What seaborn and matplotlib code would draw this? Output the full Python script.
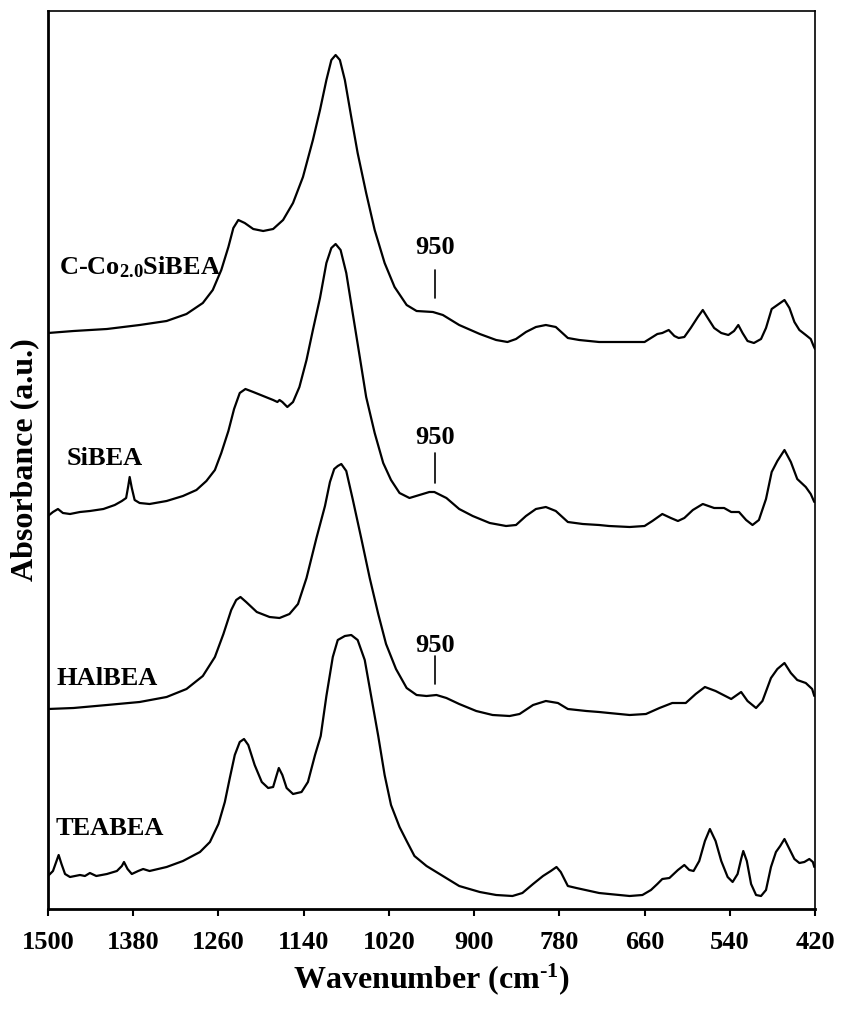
import matplotlib
matplotlib.use("Agg")
import matplotlib.pyplot as plt
import pandas as pd
import seaborn as sns

# FTIR spectra, wavenumber (cm-1) vs offset absorbance (a.u.)
wn_coco = [1500, 1464, 1417, 1371, 1333, 1305, 1282, 1268, 1256, 1246,
           1239, 1232, 1223, 1211, 1197, 1183, 1169, 1155, 1141, 1127,
           1117, 1108, 1101, 1095, 1089, 1082, 1073, 1064, 1052, 1040,
           1026, 1012, 995, 981, 958, 944, 921, 892, 869, 853,
           841, 827, 813, 799, 785, 768, 752, 724, 710, 660,
           651, 642, 635, 626, 618, 612, 604, 595, 585, 578,
           571, 562, 552, 542, 534, 528, 522, 515, 506, 496,
           489, 481, 473, 463, 456, 449, 442, 433, 426, 422, 420]
abs_coco = [5.76, 5.78, 5.80, 5.84, 5.88, 5.95, 6.06, 6.19, 6.39, 6.62,
            6.81, 6.89, 6.86, 6.80, 6.78, 6.80, 6.89, 7.06, 7.32, 7.69,
            7.99, 8.29, 8.49, 8.54, 8.49, 8.29, 7.92, 7.56, 7.16, 6.79,
            6.46, 6.22, 6.04, 5.98, 5.97, 5.94, 5.84, 5.75, 5.69, 5.67,
            5.70, 5.77, 5.82, 5.84, 5.82, 5.71, 5.69, 5.67, 5.67, 5.67,
            5.71, 5.75, 5.76, 5.79, 5.73, 5.71, 5.72, 5.81, 5.92, 5.99,
            5.91, 5.81, 5.76, 5.74, 5.78, 5.84, 5.76, 5.68, 5.66, 5.70,
            5.81, 6.00, 6.04, 6.09, 6.01, 5.87, 5.79, 5.74, 5.70, 5.63, 5.60]

wn_sibea = [1500, 1493, 1486, 1479, 1469, 1455, 1441, 1422, 1406, 1396,
            1390, 1387, 1385, 1382, 1378, 1371, 1357, 1333, 1310, 1291,
            1277, 1265, 1256, 1246, 1238, 1230, 1222, 1211, 1197, 1183,
            1177, 1174, 1170, 1163, 1155, 1146, 1136, 1127, 1117, 1108,
            1101, 1095, 1088, 1080, 1071, 1061, 1052, 1040, 1028, 1017,
            1005, 991, 977, 963, 956, 939, 921, 902, 878, 855,
            841, 827, 813, 799, 785, 768, 747, 724, 710, 681,
            660, 649, 635, 623, 613, 604, 592, 578, 562, 548,
            538, 527, 517, 508, 499, 489, 481, 473, 463, 454,
            445, 433, 426, 421]
abs_sibea = [3.93, 3.97, 4.00, 3.96, 3.95, 3.97, 3.98, 4.00, 4.04, 4.08,
             4.11, 4.23, 4.32, 4.21, 4.09, 4.06, 4.05, 4.08, 4.13, 4.19,
             4.28, 4.39, 4.56, 4.78, 5.00, 5.16, 5.20, 5.17, 5.13, 5.09,
             5.07, 5.09, 5.07, 5.02, 5.07, 5.22, 5.49, 5.79, 6.11, 6.46,
             6.61, 6.65, 6.59, 6.36, 5.96, 5.52, 5.12, 4.76, 4.46, 4.29,
             4.16, 4.11, 4.14, 4.17, 4.17, 4.11, 4.00, 3.93, 3.86, 3.83,
             3.84, 3.93, 4.00, 4.02, 3.98, 3.87, 3.85, 3.84, 3.83, 3.82,
             3.83, 3.88, 3.95, 3.91, 3.88, 3.91, 3.99, 4.05, 4.01, 4.01,
             3.97, 3.97, 3.89, 3.84, 3.89, 4.10, 4.37, 4.48, 4.59, 4.47,
             4.30, 4.22, 4.15, 4.07]

wn_halbea = [1500, 1464, 1417, 1371, 1333, 1305, 1282, 1265, 1253, 1242,
             1235, 1229, 1221, 1206, 1188, 1174, 1160, 1148, 1136, 1122,
             1110, 1103, 1097, 1092, 1087, 1080, 1071, 1059, 1047, 1035,
             1024, 1010, 995, 981, 967, 953, 939, 921, 897, 874,
             850, 836, 817, 799, 782, 768, 742, 724, 710, 681,
             658, 639, 621, 602, 588, 575, 560, 538, 524, 515,
             503, 494, 482, 473, 463, 454, 445, 433, 424, 421]
abs_halbea = [2.00, 2.01, 2.04, 2.07, 2.12, 2.20, 2.33, 2.52, 2.75, 2.99,
              3.09, 3.12, 3.07, 2.97, 2.92, 2.91, 2.95, 3.05, 3.31, 3.71,
              4.03, 4.27, 4.40, 4.43, 4.45, 4.38, 4.10, 3.71, 3.31, 2.95,
              2.65, 2.40, 2.21, 2.14, 2.13, 2.14, 2.11, 2.05, 1.98, 1.94,
              1.93, 1.95, 2.04, 2.08, 2.06, 2.00, 1.98, 1.97, 1.96, 1.94,
              1.95, 2.01, 2.06, 2.06, 2.15, 2.22, 2.18, 2.10, 2.17, 2.08,
              2.01, 2.08, 2.31, 2.40, 2.46, 2.36, 2.29, 2.26, 2.20, 2.13]

wn_teabea = [1500, 1493, 1488, 1485, 1481, 1476, 1469, 1455, 1448, 1441,
             1432, 1417, 1403, 1396, 1393, 1388, 1382, 1373, 1366, 1357,
             1333, 1310, 1286, 1272, 1260, 1251, 1244, 1237, 1230, 1224,
             1218, 1209, 1199, 1190, 1183, 1178, 1175, 1170, 1164, 1155,
             1143, 1134, 1124, 1116, 1108, 1099, 1092, 1082, 1073, 1064,
             1054, 1045, 1035, 1026, 1017, 1005, 995, 984, 967, 944,
             921, 892, 869, 846, 832, 817, 803, 792, 784, 778,
             768, 756, 724, 710, 681, 663, 651, 642, 635, 625,
             613, 604, 597, 591, 583, 575, 568, 560, 552, 543,
             536, 529, 524, 521, 516, 510, 503, 496, 489, 482,
             475, 469, 463, 456, 449, 442, 435, 428, 423, 421]
abs_teabea = [0.33, 0.38, 0.48, 0.54, 0.45, 0.35, 0.32, 0.34, 0.33, 0.36,
              0.33, 0.35, 0.38, 0.43, 0.47, 0.40, 0.35, 0.38, 0.40, 0.38,
              0.42, 0.48, 0.57, 0.67, 0.85, 1.07, 1.31, 1.54, 1.67, 1.70,
              1.64, 1.44, 1.27, 1.21, 1.22, 1.34, 1.41, 1.34, 1.21, 1.15,
              1.17, 1.27, 1.54, 1.73, 2.13, 2.52, 2.69, 2.73, 2.74, 2.69,
              2.49, 2.13, 1.73, 1.34, 1.04, 0.82, 0.68, 0.53, 0.43, 0.33,
              0.23, 0.17, 0.14, 0.13, 0.16, 0.25, 0.33, 0.38, 0.42, 0.37,
              0.23, 0.21, 0.16, 0.15, 0.13, 0.14, 0.19, 0.25, 0.30, 0.31,
              0.39, 0.44, 0.39, 0.38, 0.48, 0.68, 0.80, 0.68, 0.48, 0.32,
              0.27, 0.35, 0.50, 0.58, 0.48, 0.25, 0.14, 0.13, 0.19, 0.42,
              0.57, 0.63, 0.70, 0.60, 0.50, 0.46, 0.47, 0.50, 0.47, 0.42]

samples = ["C-Co2.0SiBEA", "SiBEA", "HAlBEA", "TEABEA"]
sample_labels = ["C-Co$_{2.0}$SiBEA", "SiBEA", "HAlBEA", "TEABEA"]
x_ticks = [1500, 1380, 1260, 1140, 1020, 900, 780, 660, 540, 420]

sns.set_style("ticks")
plt.rcParams['font.family'] = ['Liberation Serif', 'DejaVu Serif']
plt.rcParams['font.weight'] = 'bold'
plt.rcParams['axes.labelweight'] = 'bold'
plt.rcParams['text.color'] = 'black'
plt.rcParams['axes.labelcolor'] = 'black'
plt.rcParams['axes.edgecolor'] = 'black'
plt.rcParams['xtick.color'] = 'black'
plt.rcParams['mathtext.fontset'] = 'custom'
plt.rcParams['mathtext.rm'] = 'Liberation Serif:bold'
plt.rcParams['mathtext.bf'] = 'Liberation Serif:bold'
plt.rcParams['mathtext.it'] = 'Liberation Serif:bold'

frames = []
for name, wn, ab in zip(samples,
                        [wn_coco, wn_sibea, wn_halbea, wn_teabea],
                        [abs_coco, abs_sibea, abs_halbea, abs_teabea]):
    frames.append(pd.DataFrame({'wavenumber': wn, 'absorbance': ab, 'sample': name}))
df = pd.concat(frames, ignore_index=True)

fig = plt.figure(figsize=(8.43, 10.10), dpi=100)
ax = fig.add_axes([48 / 843, 101 / 1010, 767 / 843, 898 / 1010])

sns.lineplot(data=df, x='wavenumber', y='absorbance', hue='sample',
             palette={s: 'black' for s in samples}, estimator=None,
             linewidth=1.6, legend=False, ax=ax,
             solid_joinstyle='round', solid_capstyle='round')

# sample names
label_pos = [(1485, 6.35), (1474, 4.44), (1488, 2.24), (1490, 0.74)]
for lab, (lx, ly) in zip(sample_labels, label_pos):
    ax.text(lx, ly, lab, fontsize=19, fontweight='bold', ha='left', va='baseline')

# 950 markers
for y0, y1, ytxt in [(6.11, 6.39, 6.62), (4.26, 4.56, 4.72), (2.25, 2.53, 2.64)]:
    ax.plot([955, 955], [y0, y1], color='black', linewidth=1.2)
    ax.text(955, ytxt, "950", fontsize=19, fontweight='bold', ha='center', va='center')

ax.set_xlim(1500, 420)
ax.set_ylim(0, 8.98)
ax.set_xticks(x_ticks)
ax.set_yticks([])
ax.tick_params(axis='x', direction='out', length=5, width=1.5, labelsize=19, pad=11,
               colors='black')
for lbl in ax.get_xticklabels():
    lbl.set_fontweight('bold')

ax.set_xlabel(r"Wavenumber (cm$^{\text{-}1}$)", fontsize=23, fontweight='bold', labelpad=5)
ax.set_ylabel("Absorbance (a.u.)", fontsize=23, fontweight='bold', labelpad=6)

for side in ['left', 'bottom']:
    ax.spines[side].set_linewidth(2)
for side in ['top', 'right']:
    ax.spines[side].set_linewidth(1.2)

fig.savefig("out.png", dpi=100)
